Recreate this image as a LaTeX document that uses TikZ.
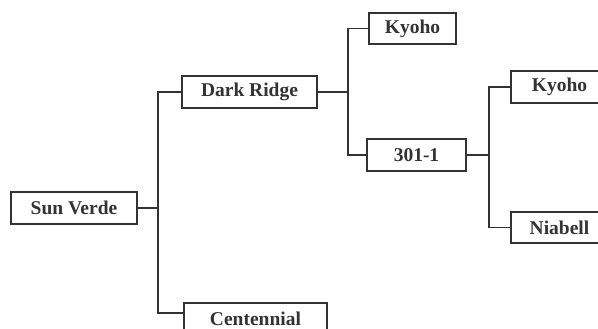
\documentclass[tikz,border=0pt]{standalone}
\usepackage{xcolor}
\usepackage{fontspec}
\setmainfont{Liberation Serif}
\definecolor{ink}{HTML}{333333}
\begin{document}
\begin{tikzpicture}[x=1pt,y=-1pt,
  box/.style={draw=ink, line width=1.8pt, fill=white, text=ink, inner sep=0pt,
    font=\fontsize{19.5}{22}\selectfont\bfseries},
  conn/.style={draw=ink, line width=1.8pt}]
\useasboundingbox (0,0) rectangle (598,329);
\node[box, minimum width=126pt, minimum height=32pt] (sun) at (74,208) {Sun Verde};
\node[box, minimum width=135pt, minimum height=32pt] (dark) at (249.5,92) {Dark Ridge};
\node[box, minimum width=143pt, minimum height=32pt] (cent) at (255.5,319) {Centennial};
\node[box, minimum width=87pt, minimum height=31pt] (kyoa) at (412.5,28.5) {Kyoho};
\node[box, minimum width=99pt, minimum height=32pt] (tri) at (416.5,155) {301-1};
\node[box, minimum width=97pt, minimum height=32pt] (kyob) at (559.5,87) {Kyoho};
\node[box, minimum width=97pt, minimum height=31pt] (nia) at (559.5,227.5) {Niabell};
\coordinate (j1) at (158,208);
\coordinate (j2) at (348,92);
\coordinate (j3) at (489,155);
\draw[conn] (sun.east) -- (j1);
\draw[conn] (dark.west) -| (j1) |- ([yshift=6pt]cent.west);
\draw[conn] (dark.east) -- (j2);
\draw[conn] (kyoa.west) -| (j2) |- (tri.west);
\draw[conn] (tri.east) -- (j3);
\draw[conn] (kyob.west) -| (j3) |- (nia.west);
\end{tikzpicture}
\end{document}
